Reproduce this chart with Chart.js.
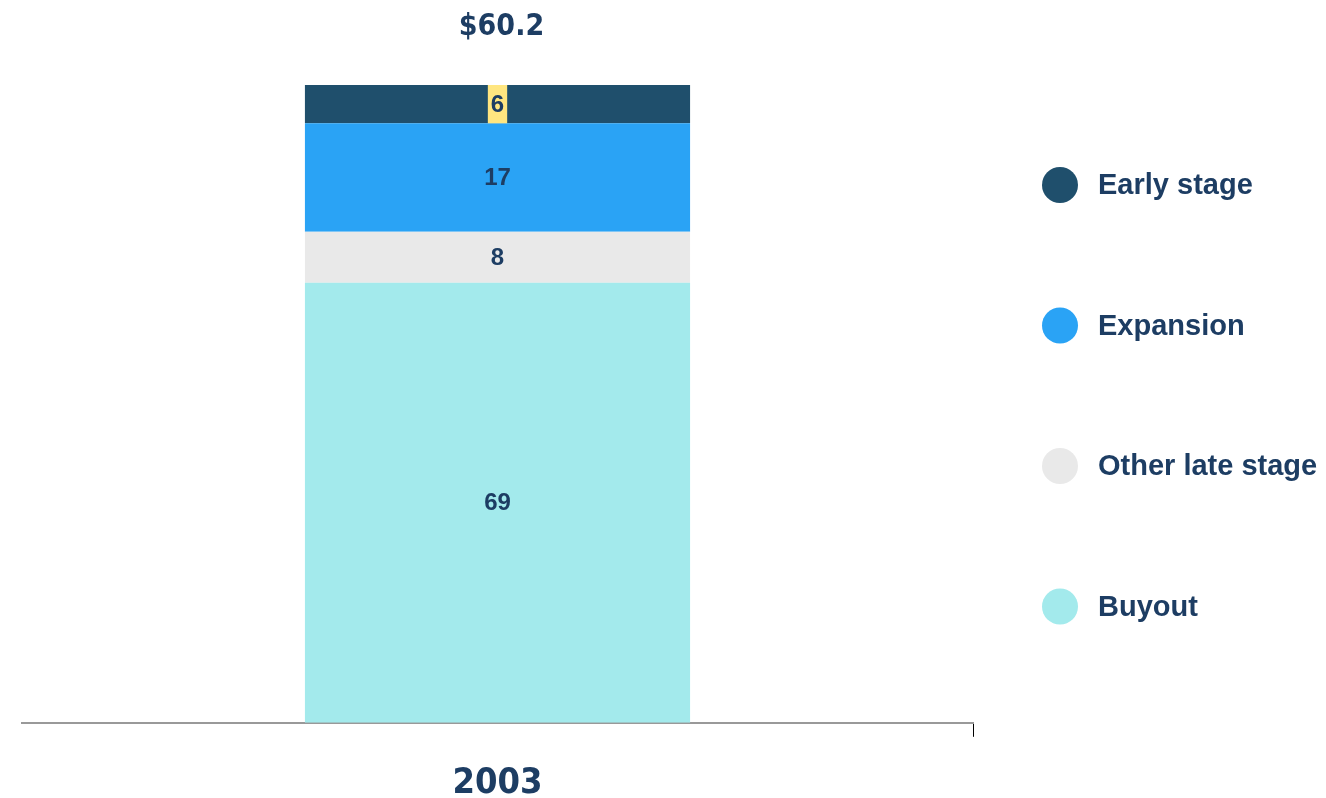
<!DOCTYPE html>
<html>
<head>
<meta charset="utf-8">
<script src="https://cdn.jsdelivr.net/npm/chart.js@4.4.1/dist/chart.umd.min.js"></script>
<style>
  html, body { margin: 0; padding: 0; background: #fff; }
  #wrap { width: 1326px; height: 798px; }
</style>
</head>
<body>
<div id="wrap"><canvas id="chart"></canvas></div>
<script>
'use strict';

var categories = ['2003'];
var seriesNames = ['Buyout', 'Other late stage', 'Expansion', 'Early stage'];
var buyout = [69];
var otherLate = [8];
var expansion = [17];
var earlyStage = [6];
var totals = ['$60.2'];

var TEXT_COLOR = '#1d3d63';
var COLORS = ['#a3eaec', '#e9e9e9', '#2aa3f5', '#1f4f6c'];
var NARROW = '"DejaVu Sans Condensed", "Liberation Sans Narrow", sans-serif';

// small stacked-bar label plugin: values in segments, total above, legend on the right
var barLabels = {
  id: 'barLabels',
  afterDatasetsDraw: function (chart) {
    var ctx = chart.ctx;
    ctx.save();
    ctx.textAlign = 'center';
    ctx.textBaseline = 'middle';
    chart.data.datasets.forEach(function (ds, i) {
      var meta = chart.getDatasetMeta(i);
      meta.data.forEach(function (bar, j) {
        var y = (bar.y + bar.base) / 2;
        var txt = String(ds.data[j]);
        ctx.font = 'bold 24px "Liberation Sans", Arial, sans-serif';
        if (ds.label === 'Early stage') {
          var w = ctx.measureText(txt).width + 6;
          ctx.fillStyle = '#ffe680';
          ctx.fillRect(bar.x - w / 2, bar.y, w, bar.base - bar.y);
        }
        ctx.fillStyle = TEXT_COLOR;
        ctx.fillText(txt, bar.x, y + 1);
      });
    });
    // total above the stack
    var last = chart.getDatasetMeta(chart.data.datasets.length - 1);
    last.data.forEach(function (bar, j) {
      ctx.font = 'bold 30px ' + NARROW;
      ctx.fillStyle = TEXT_COLOR;
      ctx.fillText(totals[j], bar.x + 4, 27);
    });
    // legend, top item first
    var items = chart.data.datasets.slice().reverse();
    ctx.textAlign = 'left';
    items.forEach(function (ds, k) {
      var cy = 185 + k * 140.5;
      ctx.beginPath();
      ctx.arc(1060, cy, 18, 0, Math.PI * 2);
      ctx.fillStyle = ds.backgroundColor;
      ctx.fill();
      ctx.font = 'bold 29px "Liberation Sans", Arial, sans-serif';
      ctx.fillStyle = TEXT_COLOR;
      ctx.fillText(ds.label, 1098, cy + 1);
    });
    ctx.restore();
  }
};

var ctx = document.getElementById('chart').getContext('2d');
var myChart = new Chart(ctx, {
  type: 'bar',
  plugins: [barLabels],
  data: {
    labels: categories,
    datasets: [
      { label: seriesNames[0], data: buyout, backgroundColor: COLORS[0] },
      { label: seriesNames[1], data: otherLate, backgroundColor: COLORS[1] },
      { label: seriesNames[2], data: expansion, backgroundColor: COLORS[2] },
      { label: seriesNames[3], data: earlyStage, backgroundColor: COLORS[3] },
    ],
  },
  options: {
    responsive: true,
    maintainAspectRatio: false,
    animation: false,
    layout: {
      padding: { left: 22, right: 353, top: 85, bottom: -32 },
    },
    datasets: {
      bar: {
        barPercentage: 0.405,
        categoryPercentage: 1,
        borderWidth: 0,
      },
    },
    plugins: {
      legend: { display: false },
      tooltip: { enabled: false },
    },
    scales: {
      x: {
        stacked: true,
        offset: true,
        border: { display: true, color: '#999', width: 2 },
        grid: {
          offset: true,
          drawOnChartArea: false,
          drawTicks: true,
          tickLength: 14,
          color: ['rgba(0,0,0,0)', '#555'],
        },
        ticks: {
          padding: 25,
          color: TEXT_COLOR,
          font: { size: 36, weight: 'bold', family: NARROW },
        },
      },
      y: {
        stacked: true,
        display: false,
        min: 0,
        max: 100,
      },
    },
  },
});
</script>
</body>
</html>
